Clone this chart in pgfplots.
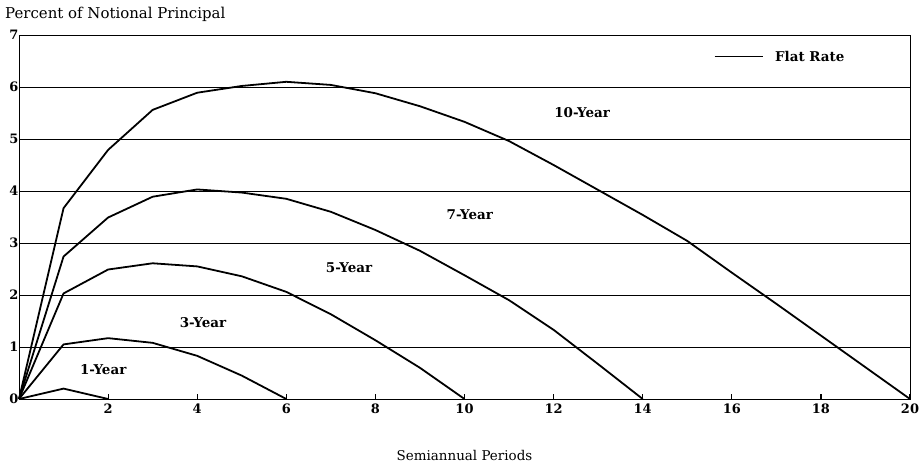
\documentclass[border=0pt]{standalone}
\usepackage{pgfplots}
\pgfplotsset{compat=1.18}
\usepackage{fontspec}
\setmainfont{DejaVu Serif}
\begin{document}
\begin{tikzpicture}[curve/.style={black, line width=1.8pt, mark=none, line join=round}]
\useasboundingbox (-19bp,-68bp) rectangle (903bp,399bp);
\begin{axis}[
  scale only axis, width=891bp, height=364bp,
  xmin=0, xmax=20, ymin=0, ymax=7,
  xtick={2,4,...,20}, ytick={0,1,...,7},
  ymajorgrids, major grid style={black, line width=0.8pt},
  axis line style={black, line width=1pt},
  x tick style={black, line width=1.2pt}, xtick align=inside,
  major tick length=5bp, ytick style={draw=none},
  tick pos=left,
  /pgf/number format/assume math mode=true,
  ticklabel style={font=\fontsize{13}{15}\selectfont\bfseries},
  yticklabel style={xshift=3bp},
  xticklabel style={yshift=-1bp},
  clip=false,
  legend style={draw=none, fill=none, at={(rel axis cs:0.78,0.94)}, anchor=west,
    font=\fontsize{13.5}{15}\selectfont\bfseries, legend cell align=left, inner sep=0pt,
    nodes={inner xsep=12bp}},
  legend image code/.code={\draw[black, line width=1pt] (0bp,0bp) -- (48bp,0bp);},
]
\addlegendimage{black}
\addlegendentry{Flat Rate}
% 1-Year
\addplot[curve] coordinates {(0,0) (1,0.2) (2,0)};
% 3-Year
\addplot[curve] coordinates {(0,0) (1,1.05) (2,1.17) (3,1.08) (4,0.83) (5,0.45) (6,0)};
% 5-Year
\addplot[curve] coordinates {(0,0) (1,2.03) (2,2.49) (3,2.61) (4,2.55) (5,2.36) (6,2.06) (7,1.63) (8,1.13) (9,0.6) (10,0)};
% 7-Year
\addplot[curve] coordinates {(0,0) (1,2.74) (2,3.49) (3,3.89) (4,4.03) (5,3.97) (6,3.85) (7,3.6) (8,3.25) (9,2.85) (10,2.38) (11,1.9) (12,1.33) (13,0.67) (14,0)};
% 10-Year
\addplot[curve] coordinates {(0,0) (1,3.67) (2,4.79) (3,5.56) (4,5.89) (5,6.02) (6,6.1) (7,6.04) (8,5.88) (9,5.63) (10,5.33) (11,4.96) (12,4.5) (13,4.02) (14,3.54) (15,3.04) (16,2.43) (17,1.83) (18,1.22) (19,0.61) (20,0)};
\node[font=\fontsize{13.5}{15}\selectfont\bfseries] at (axis cs:12.64,5.5) {10-Year};
\node[font=\fontsize{13.5}{15}\selectfont\bfseries] at (axis cs:10.12,3.54) {7-Year};
\node[font=\fontsize{13.5}{15}\selectfont\bfseries] at (axis cs:7.41,2.52) {5-Year};
\node[font=\fontsize{13.5}{15}\selectfont\bfseries] at (axis cs:4.13,1.46) {3-Year};
\node[font=\fontsize{13.5}{15}\selectfont\bfseries] at (axis cs:1.89,0.56) {1-Year};
\node[font=\fontsize{13.5}{15}\selectfont] at (rel axis cs:0.5,0) [yshift=-56bp] {Semiannual Periods};
\node[font=\fontsize{15}{17}\selectfont, anchor=west, inner sep=0pt] at (rel axis cs:0,1) [xshift=-14bp, yshift=21bp] {Percent of Notional Principal};
\end{axis}
\end{tikzpicture}
\end{document}
